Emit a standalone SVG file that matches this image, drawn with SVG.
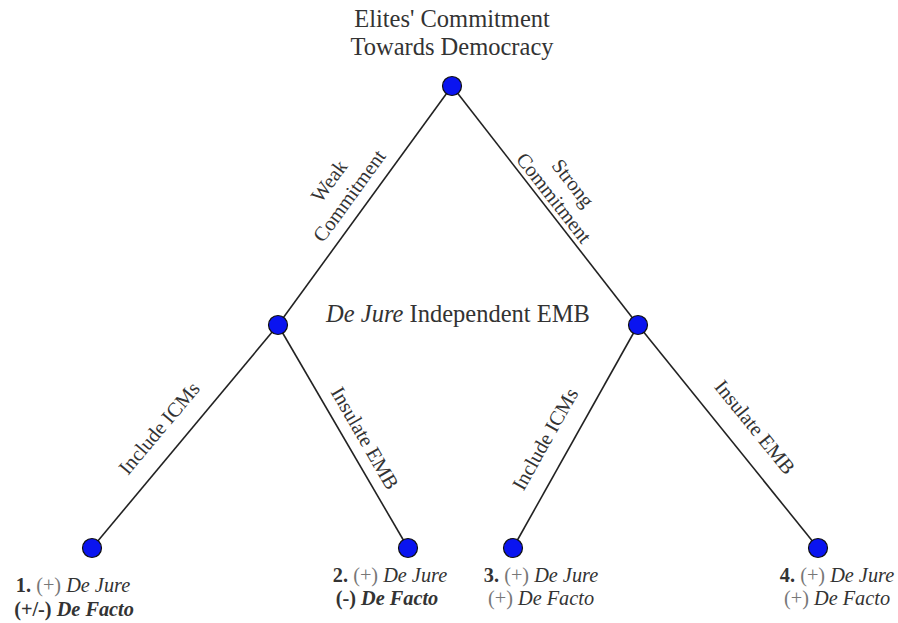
<svg xmlns="http://www.w3.org/2000/svg" width="898" height="623" viewBox="0 0 898 623">
<style>
text{font-family:"Liberation Serif","Times New Roman",serif;fill:#333}
.t{font-size:24.5px}
.m{font-size:24.5px}
.e{font-size:20.5px}
.l{font-size:20.3px}
.i{font-style:italic}
.b{font-weight:bold}
.g{fill:#777}
.edge{stroke:#222;stroke-width:1.6;fill:none}
.node{fill:#0a14f0;stroke:#111;stroke-width:1.2}
</style>
<rect width="898" height="623" fill="#fff"/>
<g id="connectors">
<line class="edge" x1="452" y1="86" x2="278" y2="325"/>
<line class="edge" x1="452" y1="86" x2="638" y2="325"/>
<line class="edge" x1="278" y1="325" x2="92" y2="548"/>
<line class="edge" x1="278" y1="325" x2="408" y2="548"/>
<line class="edge" x1="638" y1="325" x2="513" y2="548"/>
<line class="edge" x1="638" y1="325" x2="818" y2="548"/>
<g class="e" text-anchor="middle">
<g transform="translate(329,181) rotate(-54)"><text x="0" y="7">Weak</text><text x="0" y="32">Commitment</text></g>
<g transform="translate(573,183) rotate(52)"><text x="0" y="7">Strong</text><text x="0" y="31">Commitment</text></g>
<text transform="translate(159,428) rotate(-50)" y="7">Include ICMs</text>
<text transform="translate(365,438) rotate(60)" y="7">Insulate EMB</text>
<text transform="translate(545,439) rotate(-60.7)" y="7">Include ICMs</text>
<text transform="translate(755,427) rotate(51)" y="7">Insulate EMB</text>
</g>
</g>
<g id="root">
<text class="t" x="452" y="27" text-anchor="middle">Elites' Commitment</text>
<text class="t" x="452" y="55" text-anchor="middle">Towards Democracy</text>
<circle class="node" cx="452" cy="86" r="9.5"/>
</g>
<g id="emb-label">
<text class="m" x="458" y="322" text-anchor="middle"><tspan class="i">De Jure</tspan> Independent EMB</text>
</g>
<g id="mid-left"><circle class="node" cx="278" cy="325" r="9.5"/></g>
<g id="mid-right"><circle class="node" cx="638" cy="325" r="9.5"/></g>
<g id="leaf1">
<circle class="node" cx="92" cy="548" r="9.5"/>
<text class="l" x="73" y="592" text-anchor="middle"><tspan class="b">1.</tspan> <tspan class="g">(+)</tspan> <tspan class="i">De Jure</tspan></text>
<text class="l b" x="74" y="616" text-anchor="middle">(+/-) <tspan class="i">De Facto</tspan></text>
</g>
<g id="leaf2">
<circle class="node" cx="408" cy="548" r="9.5"/>
<text class="l" x="390" y="582" text-anchor="middle"><tspan class="b">2.</tspan> <tspan class="g">(+)</tspan> <tspan class="i">De Jure</tspan></text>
<text class="l b" x="387" y="605" text-anchor="middle">(-) <tspan class="i">De Facto</tspan></text>
</g>
<g id="leaf3">
<circle class="node" cx="513" cy="548" r="9.5"/>
<text class="l" x="541" y="582" text-anchor="middle"><tspan class="b">3.</tspan> <tspan class="g">(+)</tspan> <tspan class="i">De Jure</tspan></text>
<text class="l" x="541" y="605" text-anchor="middle"><tspan class="g">(+)</tspan> <tspan class="i">De Facto</tspan></text>
</g>
<g id="leaf4">
<circle class="node" cx="818" cy="548" r="9.5"/>
<text class="l" x="837" y="582" text-anchor="middle"><tspan class="b">4.</tspan> <tspan class="g">(+)</tspan> <tspan class="i">De Jure</tspan></text>
<text class="l" x="837" y="605" text-anchor="middle"><tspan class="g">(+)</tspan> <tspan class="i">De Facto</tspan></text>
</g>
</svg>
